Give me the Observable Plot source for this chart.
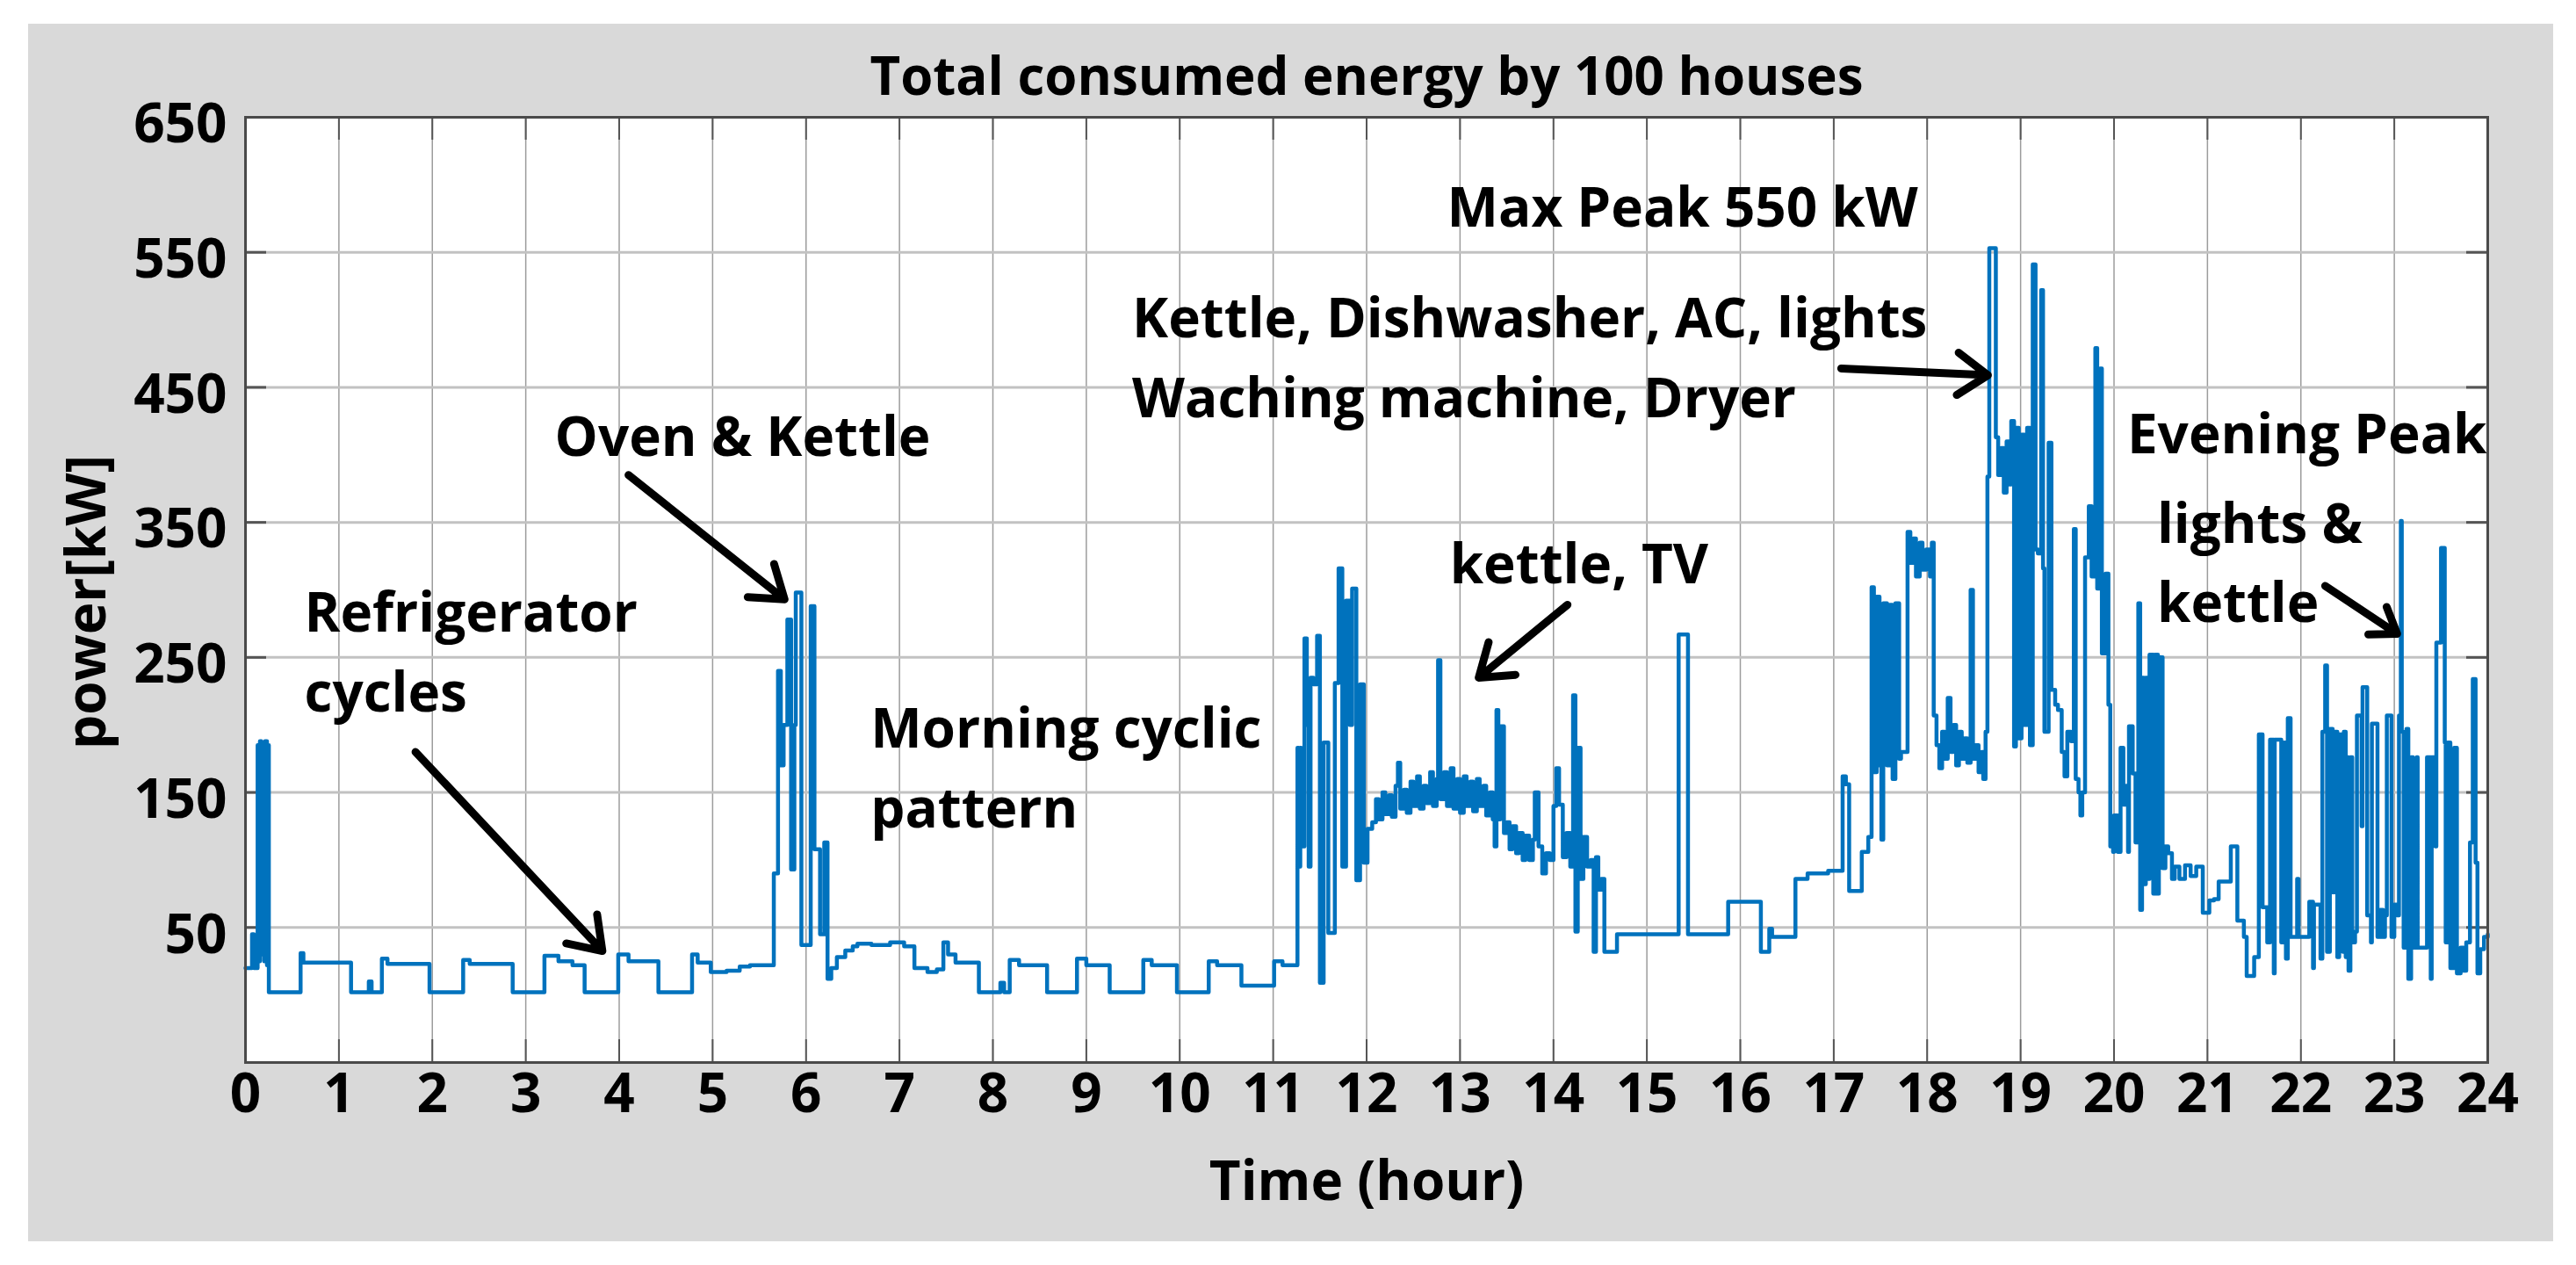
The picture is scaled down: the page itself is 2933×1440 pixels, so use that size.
<!DOCTYPE html>
<html><head><meta charset="utf-8">
<script src="https://cdn.jsdelivr.net/npm/d3@7"></script>
<script src="https://cdn.jsdelivr.net/npm/@observablehq/plot@0.6"></script>
<style>
html,body{margin:0;padding:0;background:#fff;}
#chart{position:absolute;left:32px;top:27px;}
</style></head><body><div id="chart"></div>
<script>
// ---- data (step series: value holds until the next time) ----
const hours = [
0.00,0.07,0.09,0.13,0.145,0.155,0.17,0.18,0.20,0.21,0.23,0.24,0.25,0.59,0.62,1.13,1.32,1.35,1.46,1.52,1.97,
2.33,2.40,2.86,3.20,3.35,3.50,3.63,3.99,4.10,4.42,4.78,4.84,4.98,5.15,5.29,5.40,5.655,5.70,5.73,5.76,5.80,5.84,
5.875,5.89,5.95,6.05,6.09,6.15,6.195,6.23,6.27,6.33,6.42,6.50,6.55,6.70,6.90,7.05,7.16,7.30,7.40,7.47,7.52,7.60,
7.85,8.08,8.12,8.18,8.28,8.58,8.90,9.00,9.25,9.61,9.70,9.97,10.31,10.40,10.66,11.01,11.10,
11.26,11.275,11.29,11.30,11.335,11.36,11.38,11.40,11.43,11.47,11.50,11.54,11.59,11.66,11.70,11.74,11.78,11.82,
11.845,11.89,11.93,11.97,12.01,12.06,12.10,12.13,12.17,12.20,12.24,12.27,12.31,12.335,12.36,12.40,12.43,12.47,
12.50,12.54,12.57,12.61,12.64,12.68,12.71,12.75,12.765,12.79,12.83,12.86,12.90,12.93,12.97,13.00,13.04,13.07,
13.11,13.14,13.18,13.21,13.25,13.28,13.32,13.35,13.37,13.39,13.41,13.43,13.47,13.50,13.53,13.56,13.60,13.63,
13.67,13.70,13.74,13.78,13.80,13.84,13.88,13.92,13.96,14.00,14.03,14.06,14.10,14.14,14.18,14.21,14.235,14.26,
14.29,14.32,14.36,14.40,14.43,14.455,14.48,14.51,14.545,14.68,15.34,15.44,15.87,16.22,16.31,16.34,16.59,16.72,
16.94,17.095,17.13,17.165,17.30,17.37,17.405,17.43,17.46,17.49,17.51,17.53,17.57,17.60,17.63,17.66,17.70,17.72,
17.79,17.82,17.85,17.88,17.92,17.95,17.99,18.03,18.05,18.07,18.10,18.13,18.16,18.19,18.22,18.25,18.28,18.31,
18.34,18.37,18.40,18.43,18.465,18.49,18.52,18.55,18.58,18.60,18.625,18.645,18.665,18.735,18.76,18.79,18.82,
18.85,18.88,18.90,18.93,18.95,18.98,19.01,19.04,19.07,19.10,19.13,19.16,19.185,19.22,19.24,19.255,19.30,19.33,
19.37,19.40,19.44,19.47,19.50,19.54,19.57,19.59,19.62,19.64,19.66,19.69,19.73,19.76,19.80,19.82,19.85,19.87,
19.91,19.94,19.96,19.99,20.00,20.04,20.07,20.10,20.13,20.15,20.16,20.20,20.23,20.26,20.28,20.30,20.32,20.34,
20.37,20.38,20.42,20.44,20.47,20.48,20.52,20.55,20.58,20.62,20.65,20.70,20.76,20.82,20.88,20.95,21.02,21.07,
21.12,21.25,21.32,21.39,21.42,21.50,21.55,21.59,21.64,21.67,21.71,21.72,21.79,21.82,21.84,21.86,21.89,21.96,
21.975,22.09,22.13,22.14,22.21,22.23,22.26,22.28,22.31,22.34,22.36,22.39,22.41,22.45,22.46,22.48,22.50,22.51,
22.53,22.55,22.58,22.60,22.65,22.66,22.71,22.75,22.76,22.82,22.85,22.88,22.90,22.92,22.97,23.00,23.03,23.05,
23.07,23.08,23.10,23.13,23.15,23.18,23.20,23.24,23.25,23.35,23.39,23.40,23.44,23.45,23.50,23.54,23.55,23.57,
23.60,23.64,23.67,23.71,23.74,23.77,23.81,23.84,23.87,23.89,23.92,23.96,24.00
];
const power = [
20,45,20,185,25,188,30,185,25,188,22,185,2,31,24,2,10,2,27,23,2,
26,23,2,29,25,22,2,30,25,2,30,24,17,18,21,22,90,240,170,200,278,93,
200,298,37,288,108,45,113,12,20,28,33,36,38,37,39,36,20,17,19,39,30,24,
2,9,2,26,22,2,27,22,2,26,22,2,25,22,7,25,22,
183,95,183,110,264,200,95,235,230,266,9,187,46,231,316,95,292,200,
301,85,230,98,123,128,145,130,150,134,148,132,155,172,138,152,135,158,
140,162,138,155,142,165,140,160,248,145,165,140,168,138,160,135,162,140,
158,136,160,140,155,133,150,130,110,211,130,199,120,128,108,125,105,120,
100,118,100,115,150,110,90,105,100,140,168,141,102,120,95,222,47,183,
86,117,95,100,32,102,78,86,32,45,267,45,69,32,49,43,86,90,
92,162,156,77,106,117,302,165,295,170,115,290,170,289,160,290,175,180,
343,320,338,310,335,315,330,310,335,207,185,168,195,175,220,180,200,170,
195,175,190,172,300,175,185,165,180,160,195,384,553,413,385,405,372,
410,378,425,184,420,190,415,200,420,185,541,330,327,522,316,195,409,226,
215,211,180,162,195,188,345,160,150,133,150,324,362,310,479,301,464,253,
312,215,110,106,133,106,183,141,155,106,199,164,113,290,63,235,82,235,
86,252,75,252,75,250,94,110,105,86,95,86,96,88,95,61,70,71,
84,110,55,43,14,28,193,65,39,189,16,189,39,187,27,205,43,86,
43,69,20,67,27,195,244,32,197,76,195,28,193,32,195,28,176,18,
176,39,47,207,125,228,59,39,201,43,63,43,59,207,43,67,59,207,
351,195,35,197,12,176,35,176,35,176,12,176,110,261,331,187,39,187,
20,183,16,35,18,39,113,234,98,16,34,43,45
];
const xTicks = [0,1,2,3,4,5,6,7,8,9,10,11,12,13,14,15,16,17,18,19,20,21,22,23,24];
const yTicks = [50,150,250,350,450,550,650];
const titleText = "Total consumed energy by 100 houses";
const xLabel = "Time (hour)";
const yLabel = "power[kW]";
// annotations (each line separately), positioned in data units (baseline-left)
const noteText = ["Refrigerator","cycles","Oven & Kettle","Morning cyclic","pattern","kettle, TV","Max Peak 550 kW",
  "Kettle, Dishwasher, AC, lights","Waching machine, Dryer","Evening Peak","lights &","kettle"];
const noteX = [0.63,0.63,3.31,6.69,6.69,12.89,12.86,9.49,9.49,20.14,20.46,20.46];
const noteY = [269,210,399,183,124,305,569,487,428,401,334.5,276];
// arrows
const arrowX1 = [1.82,4.10,14.15,17.08,22.26];
const arrowY1 = [180,385,289,464,303];
const arrowX2 = [3.82,5.77,13.20,18.65,23.03];
const arrowY2 = [32.6,293,235,459,267.5];

// ---- build ----
const series = hours.map((h, i) => ({h, p: power[i]}));
const notes = noteText.map((t, i) => ({t, x: noteX[i], y: noteY[i]}));
const arrows = arrowX1.map((x1, i) => ({x1, y1: arrowY1[i], x2: arrowX2[i], y2: arrowY2[i]}));

const W = 2875, H = 1386;
const mL = 247, mT = 106, mR = 75, mB = 204;
const innerW = W - mL - mR, innerH = H - mT - mB;
const FONT = "'Open Sans', 'Noto Sans', sans-serif";
const FS = 62;
const tickCol = "#555555";

const chart = Plot.plot({
  width: W, height: H,
  marginLeft: mL, marginTop: mT, marginRight: mR, marginBottom: mB,
  style: {background: "#d9d9d9", fontFamily: FONT, fontWeight: "bold", fontSize: FS + "px", color: "#000"},
  x: {domain: [0, 24], ticks: xTicks},
  y: {domain: [-50, 650], ticks: yTicks},
  marks: [
    Plot.frame({fill: "white"}),
    Plot.gridX(xTicks.slice(1, -1), {stroke: "#9c9c9c", strokeWidth: 1.5, strokeOpacity: 1}),
    Plot.gridY(yTicks.slice(0, -1), {stroke: "#c2c2c2", strokeWidth: 3, strokeOpacity: 1}),
    Plot.tickX(xTicks, {x: d => d, insetTop: innerH - 26, stroke: tickCol, strokeWidth: 2}),
    Plot.tickX(xTicks, {x: d => d, insetBottom: innerH - 26, stroke: tickCol, strokeWidth: 2}),
    Plot.tickY(yTicks, {y: d => d, insetRight: innerW - 24, stroke: tickCol, strokeWidth: 3}),
    Plot.tickY(yTicks, {y: d => d, insetLeft: innerW - 24, stroke: tickCol, strokeWidth: 3}),
    Plot.line(series, {x: "h", y: "p", curve: "step-after", stroke: "#0072BD", strokeWidth: 4.5}),
    Plot.frame({stroke: "#4a4a4a", strokeWidth: 3}),
    Plot.axisX(xTicks, {tickSize: 0, tickPadding: 12, fontSize: FS, fontWeight: "bold", fill: "black", label: null}),
    Plot.axisY(yTicks, {tickSize: 0, tickPadding: 21, dy: 9, fontSize: FS, fontWeight: "bold", fill: "black", label: null}),
    Plot.arrow(arrows, {x1: "x1", y1: "y1", x2: "x2", y2: "y2", stroke: "black", strokeWidth: 9,
      headLength: 7, headAngle: 70, strokeLinecap: "round", strokeLinejoin: "round"}),
    Plot.text(notes, {x: "x", y: "y", text: "t", textAnchor: "start", lineAnchor: "bottom",
      fontSize: FS, fontWeight: "bold", fill: "black"}),
    Plot.text([titleText], {text: d => d, frameAnchor: "top", textAnchor: "middle", dy: -26, lineAnchor: "bottom",
      fontSize: 60, fontWeight: "bold", fill: "black"}),
    Plot.text([xLabel], {text: d => d, frameAnchor: "bottom", textAnchor: "middle", dy: 156, lineAnchor: "bottom",
      fontSize: FS, fontWeight: "bold", fill: "black"}),
    Plot.text([yLabel], {text: d => d, frameAnchor: "left", textAnchor: "middle", dx: -179, dy: 14, rotate: -90,
      lineAnchor: "middle", fontSize: FS, fontWeight: "bold", fill: "black"})
  ]
});
document.getElementById("chart").appendChild(chart);
</script>
</body></html>
